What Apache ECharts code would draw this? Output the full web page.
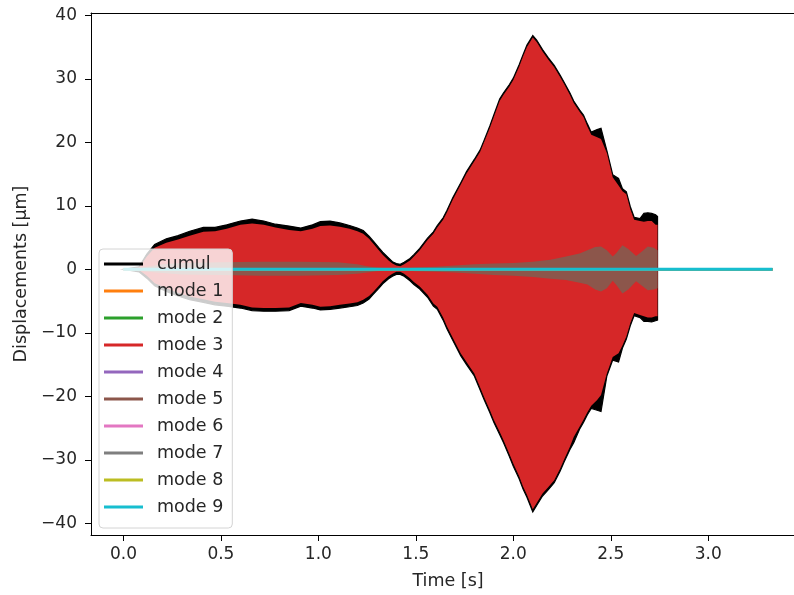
<!DOCTYPE html>
<html>
<head>
<meta charset="utf-8">
<script src="https://cdn.jsdelivr.net/npm/echarts@6/dist/echarts.min.js"></script>
<style>
html,body{margin:0;padding:0;background:#fff;overflow:hidden;width:794px;height:595px;}
#chart{width:805px;height:595px;}
</style>
</head>
<body>
<div id="chart"></div>
<script>
// ---- data ----
var envT = [
  0, 0.08, 0.12, 0.16, 0.22, 0.28, 0.34, 0.41, 0.47, 0.53,
  0.60, 0.66, 0.72, 0.78, 0.85, 0.91, 0.97, 1.01, 1.06, 1.11,
  1.16, 1.20, 1.23, 1.26, 1.28, 1.31, 1.33, 1.36, 1.38, 1.40,
  1.42, 1.44, 1.47, 1.49, 1.52, 1.56, 1.59, 1.61, 1.64, 1.66,
  1.69, 1.73, 1.76, 1.80, 1.83, 1.85, 1.88, 1.90, 1.93, 1.95,
  1.98, 2.00, 2.03, 2.05, 2.07, 2.10, 2.12, 2.15, 2.18, 2.21,
  2.24, 2.26, 2.29, 2.31, 2.34, 2.36, 2.38, 2.40, 2.43, 2.45,
  2.48, 2.51, 2.54, 2.56, 2.58, 2.60, 2.62, 2.65, 2.67, 2.69,
  2.71, 2.73, 2.74
];
var mode3Upper = [
  0, 0.3, 2.0, 3.4, 4.2, 4.7, 5.3, 5.9, 6.0, 6.4,
  7.0, 7.2, 7.0, 6.6, 6.2, 6.0, 6.4, 6.8, 6.9, 6.7,
  6.4, 6.0, 5.6, 4.8, 4.1, 3.0, 2.3, 1.4, 0.9, 0.6,
  0.5, 0.8, 1.4, 2.0, 3.0, 4.6, 5.6, 6.6, 7.8, 9.0,
  11.0, 13.3, 15.1, 17.0, 18.5, 20.0, 22.3, 24.0, 26.5, 27.5,
  28.8, 29.8, 31.9, 33.5, 35.0, 36.5, 35.8, 34.3, 33.0, 31.8,
  30.3, 29.2, 27.5, 26.2, 24.8, 24.0, 22.5, 21.2, 20.8, 20.5,
  18.3, 14.5, 13.2, 12.3, 11.8, 9.5, 7.8, 7.6, 7.5, 7.6,
  7.6, 7.0, 7.0
];
var mode3Lower = [
  0, -0.1, -1.0, -2.2, -3.0, -3.7, -4.3, -4.7, -5.1, -5.3,
  -5.6, -6.0, -6.1, -6.1, -6.0, -5.3, -5.6, -5.9, -5.8, -5.6,
  -5.4, -5.2, -4.8, -4.2, -3.6, -2.6, -1.9, -1.1, -0.7, -0.4,
  -0.4, -0.7, -1.4, -2.0, -2.7, -4.0, -5.4, -5.9, -7.6, -9.0,
  -10.8, -13.2, -14.6, -16.4, -18.6, -20.1, -22.2, -23.7, -25.6, -26.9,
  -29.1, -30.6, -32.6, -34.2, -35.5, -37.8, -36.8, -35.3, -34.3, -33.2,
  -31.4, -30.0, -28.0, -26.4, -24.8, -23.7, -22.5, -21.5, -20.6, -19.8,
  -16.4, -13.8, -13.2, -12.0, -10.6, -8.5, -6.9, -7.2, -7.4, -7.6,
  -7.6, -7.4, -7.4
];
var cumulUpper = [
  0, 0.4, 2.4, 3.9, 4.8, 5.3, 6.0, 6.6, 6.6, 7.0,
  7.6, 7.9, 7.6, 7.1, 6.8, 6.5, 7.0, 7.5, 7.6, 7.3,
  6.9, 6.5, 6.1, 5.2, 4.5, 3.4, 2.7, 1.8, 1.2, 0.9,
  0.8, 1.1, 1.7, 2.3, 3.3, 4.9, 5.9, 6.9, 8.1, 9.3,
  11.3, 13.6, 15.4, 17.3, 18.8, 20.3, 22.6, 24.3, 26.8, 27.8,
  29.1, 30.1, 32.2, 33.8, 35.3, 36.8, 36.1, 34.6, 33.3, 32.1,
  30.6, 29.5, 27.8, 26.5, 25.1, 24.3, 22.9, 21.6, 22.0, 22.2,
  18.7, 14.9, 14.3, 12.7, 12.2, 9.9, 8.2, 8.0, 8.8, 8.9,
  8.8, 8.6, 8.3
];
var cumulLower = [
  0, -0.4, -1.4, -2.6, -3.5, -4.2, -4.8, -5.2, -5.6, -5.8,
  -6.1, -6.5, -6.6, -6.6, -6.5, -5.8, -6.1, -6.4, -6.3, -6.1,
  -5.9, -5.7, -5.3, -4.7, -4.0, -3.0, -2.3, -1.5, -1.1, -0.8,
  -0.8, -1.1, -1.8, -2.4, -3.1, -4.4, -5.8, -6.3, -8.0, -9.4,
  -11.2, -13.6, -15.0, -16.8, -19.0, -20.5, -22.6, -24.1, -26.0, -27.3,
  -29.5, -31.0, -33.0, -34.6, -35.9, -38.2, -37.2, -35.7, -34.7, -33.6,
  -31.8, -30.4, -28.4, -27.3, -25.2, -24.1, -22.9, -21.9, -22.2, -22.4,
  -16.8, -14.3, -14.6, -12.4, -11.0, -8.9, -7.3, -7.6, -8.2, -8.2,
  -8.3, -8.1, -8.0
];
var mode5T = [
  0, 0.1, 0.2, 0.3, 0.5, 0.7, 0.9, 1.1, 1.2, 1.25,
  1.3, 1.4, 1.5, 1.6, 1.7, 1.8, 1.9, 2.0, 2.1, 2.19,
  2.27, 2.34, 2.38, 2.42, 2.45, 2.48, 2.51, 2.53, 2.56, 2.59,
  2.63, 2.66, 2.69, 2.72, 2.74
];
var mode5Upper = [
  0, 0.3, 0.8, 1.0, 1.1, 1.2, 1.2, 1.1, 0.8, 0.5,
  0.3, 0.1, 0.3, 0.4, 0.6, 0.8, 0.9, 1.0, 1.2, 1.5,
  2.0, 2.5, 3.0, 3.5, 3.6, 3.0, 2.0, 2.6, 3.8, 3.2,
  2.1, 2.8, 3.6, 3.4, 3.0
];
var mode5Lower = [
  0, -0.3, -0.6, -0.8, -0.9, -1.0, -1.0, -0.9, -0.7, -0.5,
  -0.3, -0.1, -0.3, -0.4, -0.5, -0.7, -0.9, -1.0, -1.2, -1.5,
  -1.7, -2.1, -2.4, -3.2, -3.5, -3.0, -1.8, -2.5, -3.8, -3.2,
  -1.9, -2.6, -3.3, -3.2, -3.0
];
var lineT = [0, 3.33];
var mode1 = [0, 0];
var mode2 = [0, 0];
var mode4 = [0, 0];
var mode6 = [0, 0];
var mode7 = [0, 0];
var mode8 = [0, 0];
var mode9 = [0, 0];

var seriesNames = ['cumul', 'mode 1', 'mode 2', 'mode 3', 'mode 4', 'mode 5', 'mode 6', 'mode 7', 'mode 8', 'mode 9'];
var seriesColors = ['#000000', '#ff7f0e', '#2ca02c', '#d62728', '#9467bd', '#8c564b', '#e377c2', '#7f7f7f', '#bcbd22', '#17becf'];
var xTicks = [0, 0.5, 1.0, 1.5, 2.0, 2.5, 3.0];
var xTickLabels = ['0.0', '0.5', '1.0', '1.5', '2.0', '2.5', '3.0'];
var yTicks = [-40, -30, -20, -10, 0, 10, 20, 30, 40];
var yTickLabels = ['\u221240', '\u221230', '\u221220', '\u221210', '0', '10', '20', '30', '40'];
var xLabel = 'Time [s]';
var yLabel = 'Displacements [\u00b5m]';

// ---- chart ----
var FONT = 'DejaVu Sans';
var TXT = '#262626';
var FS = 17.5;
var TFS = 17;

function bandSeries(name, color, tArr, upArr, loArr, strokeW) {
  return {
    type: 'custom',
    name: name,
    coordinateSystem: 'cartesian2d',
    xAxisIndex: 0, yAxisIndex: 0,
    clip: true,
    itemStyle: { color: color },
    encode: { x: 0, y: 1 },
    data: tArr.map(function (t, i) { return [t, upArr[i], loArr[i]]; }),
    renderItem: function (params, api) {
      if (params.dataIndex !== 0) return null;
      var pts = [];
      for (var i = 0; i < tArr.length; i++) pts.push(api.coord([tArr[i], upArr[i]]));
      for (var j = tArr.length - 1; j >= 0; j--) pts.push(api.coord([tArr[j], loArr[j]]));
      return {
        type: 'polygon',
        shape: { points: pts },
        style: { fill: color, stroke: strokeW ? color : null, lineWidth: strokeW || 0 }
      };
    }
  };
}
function lineSeries(name, color, vals, w) {
  return {
    type: 'line',
    name: name,
    xAxisIndex: 0, yAxisIndex: 0,
    showSymbol: false,
    symbol: 'none',
    lineStyle: { color: color, width: w },
    itemStyle: { color: color },
    data: lineT.map(function (t, i) { return [t, vals[i]]; })
  };
}

var series = [
  bandSeries(seriesNames[0], seriesColors[0], envT, cumulUpper, cumulLower, 1.2),
  lineSeries(seriesNames[1], seriesColors[1], mode1, 2.5),
  lineSeries(seriesNames[2], seriesColors[2], mode2, 2.5),
  bandSeries(seriesNames[3], seriesColors[3], envT, mode3Upper, mode3Lower, 0),
  lineSeries(seriesNames[4], seriesColors[4], mode4, 2.5),
  bandSeries(seriesNames[5], seriesColors[5], mode5T, mode5Upper, mode5Lower, 0),
  lineSeries(seriesNames[6], seriesColors[6], mode6, 2.5),
  lineSeries(seriesNames[7], seriesColors[7], mode7, 2.5),
  lineSeries(seriesNames[8], seriesColors[8], mode8, 2.5),
  lineSeries(seriesNames[9], seriesColors[9], mode9, 3)
];

var XMIN = -0.1665, XMAX = 3.4965;
var chart = echarts.init(document.getElementById('chart'), null, { renderer: 'canvas' });
chart.setOption({
  animation: false,
  backgroundColor: '#ffffff',
  grid: {
    left: 91, right: 0, top: 13, bottom: 60,
    containLabel: false, outerBoundsMode: 'none',
    show: false
  },
  legend: {
    orient: 'vertical',
    left: 99, top: 249,
    itemWidth: 39, itemHeight: 17, itemGap: 9,
    padding: [6, 9, 12, 5],
    backgroundColor: 'rgba(255,255,255,0.8)',
    borderColor: '#d4d4d4', borderWidth: 1, borderRadius: 4,
    selectedMode: false,
    textStyle: { fontFamily: FONT, fontSize: FS, color: TXT, padding: [0, 0, 0, 9] },
    data: seriesNames.map(function (n) { return { name: n, icon: 'path://M0,0H40V3H0Z' }; }),
    z: 10
  },
  xAxis: [{
    type: 'value',
    min: XMIN, max: XMAX,
    name: xLabel, nameLocation: 'middle', nameGap: 37,
    nameTextStyle: { fontFamily: FONT, fontSize: FS, color: TXT },
    axisLine: { show: true, onZero: false, lineStyle: { color: '#000', width: 1 } },
    axisTick: { show: true, length: 6, inside: false, customValues: xTicks, lineStyle: { color: '#000', width: 1 } },
    axisLabel: {
      show: true, margin: 11, customValues: xTicks,
      fontFamily: FONT, fontSize: TFS, color: TXT,
      formatter: function (v) { var k = xTicks.indexOf(v); return k >= 0 ? xTickLabels[k] : ''; }
    },
    splitLine: { show: false }
  }, {
    type: 'value',
    position: 'top',
    min: XMIN, max: XMAX,
    axisLine: { show: true, onZero: false, lineStyle: { color: '#000', width: 1 } },
    axisTick: { show: false },
    axisLabel: { show: false },
    splitLine: { show: false }
  }],
  yAxis: {
    type: 'value',
    min: -41.84, max: 40.36,
    name: yLabel, nameLocation: 'middle', nameGap: 61,
    nameTextStyle: { fontFamily: FONT, fontSize: FS, color: TXT },
    axisLine: { show: true, onZero: false, lineStyle: { color: '#000', width: 1 } },
    axisTick: { show: true, length: 6, inside: false, customValues: yTicks, lineStyle: { color: '#000', width: 1 } },
    axisLabel: {
      show: true, margin: 14, customValues: yTicks,
      fontFamily: FONT, fontSize: TFS, color: TXT,
      formatter: function (v) { var k = yTicks.indexOf(v); return k >= 0 ? yTickLabels[k] : ''; }
    },
    splitLine: { show: false }
  },
  series: series
});
</script>
</body>
</html>
